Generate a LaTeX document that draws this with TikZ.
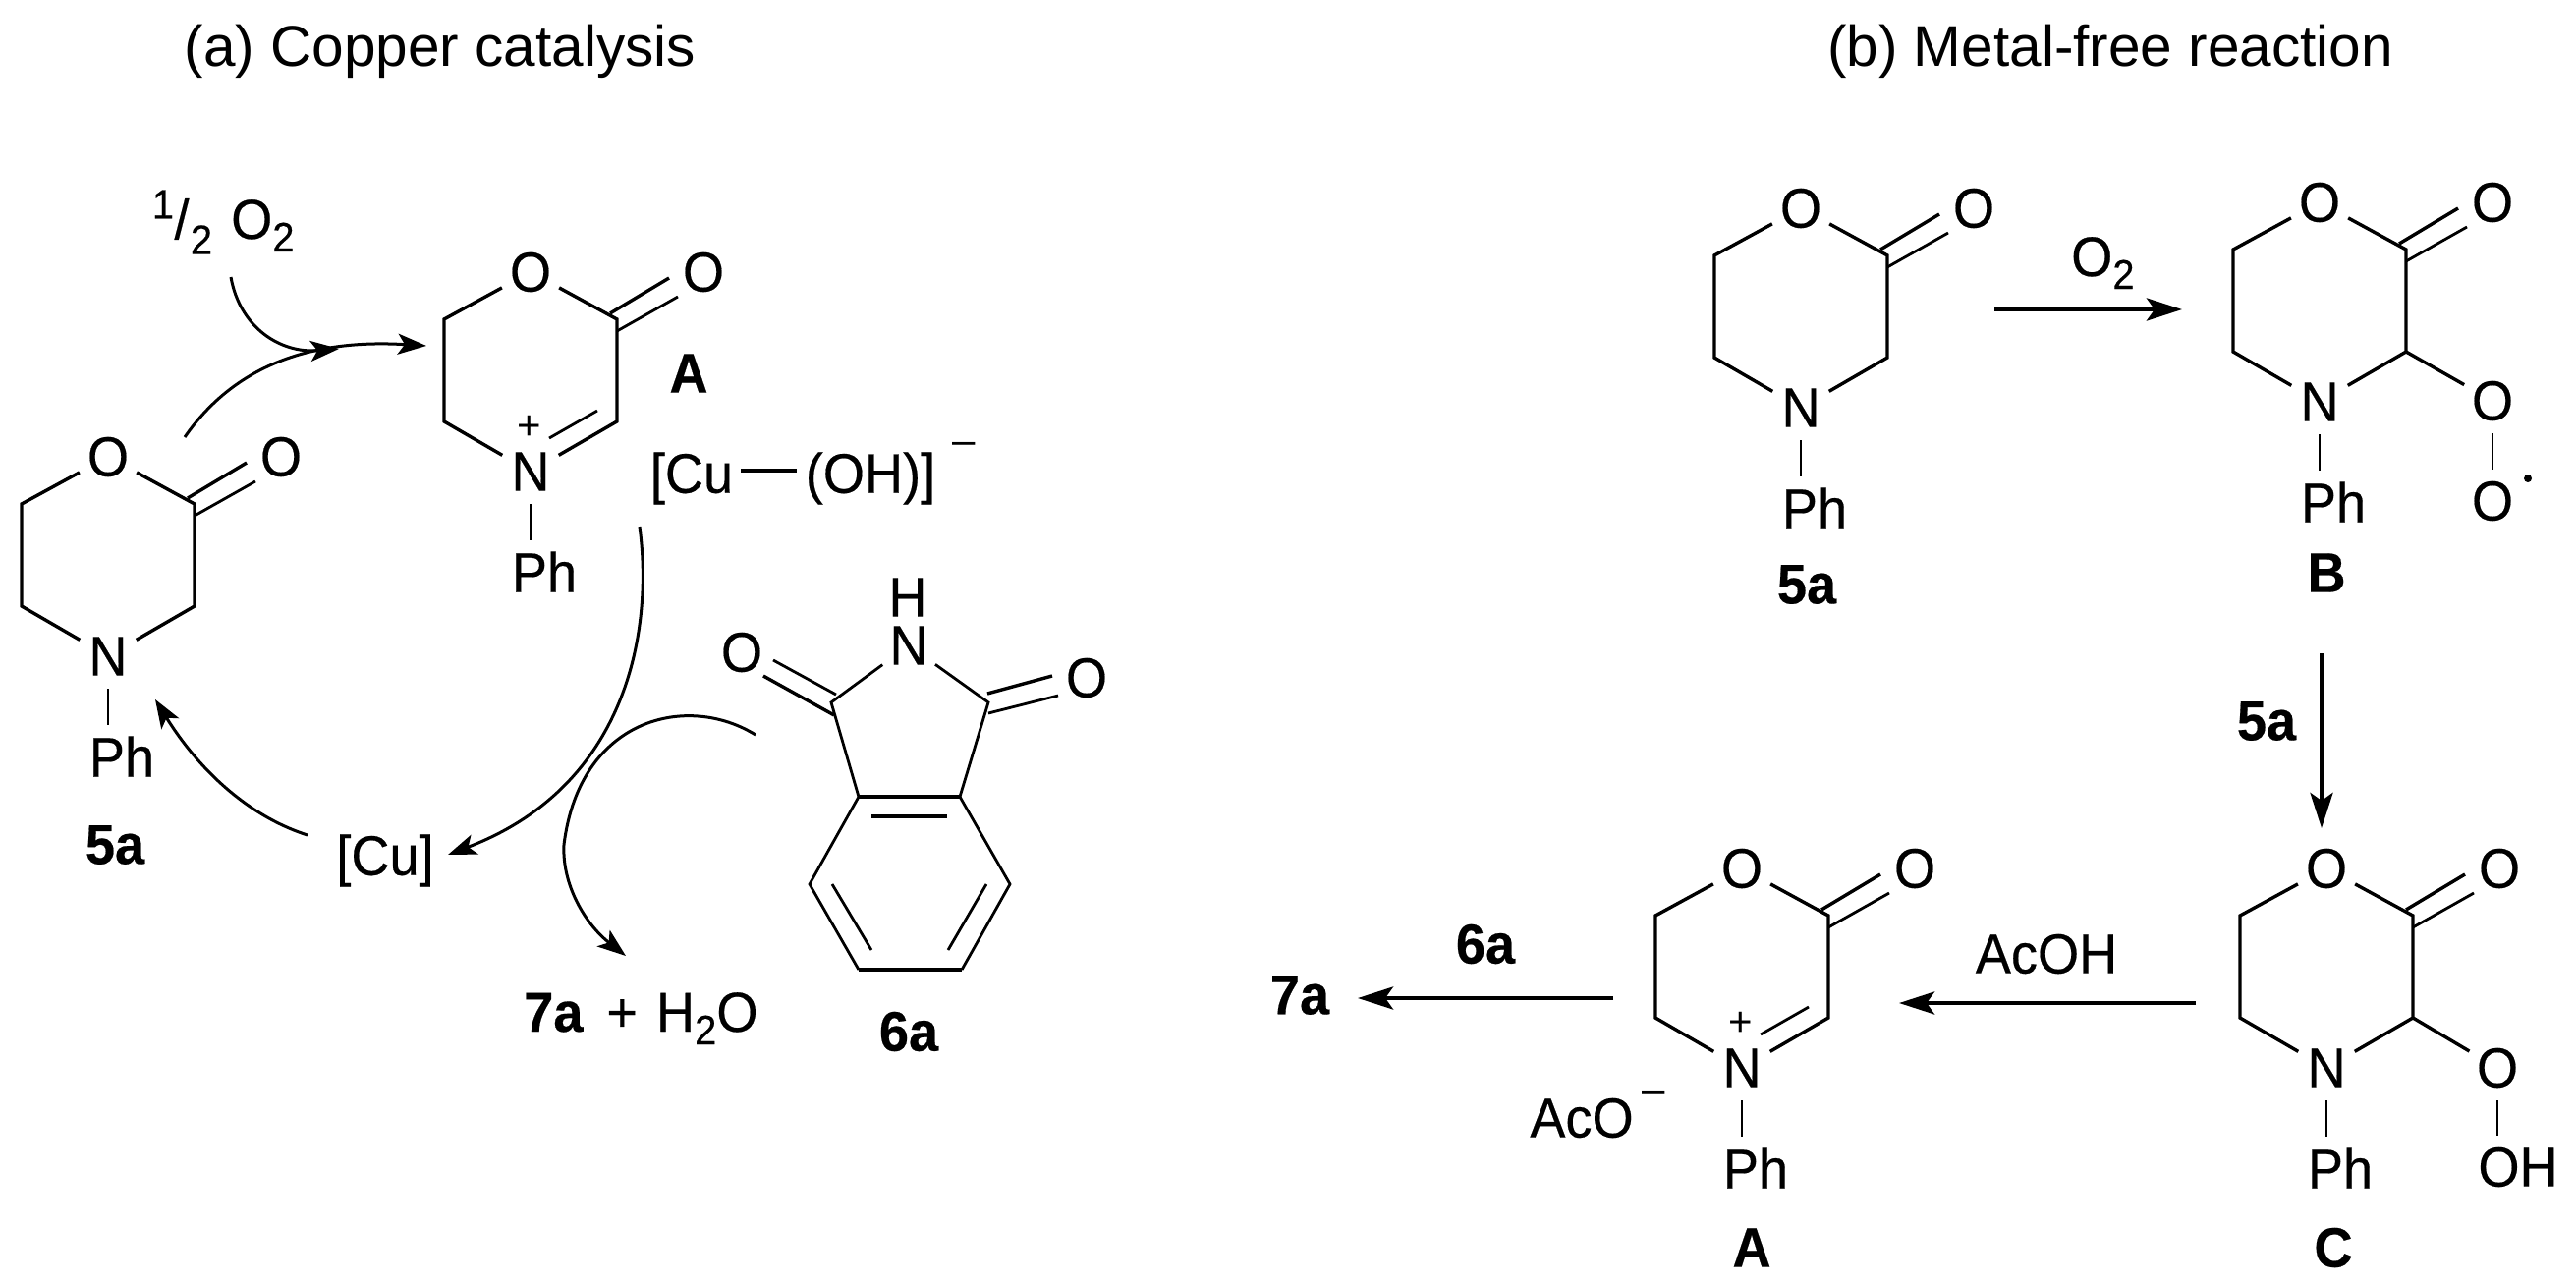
\documentclass[tikz,border=0pt]{standalone}
\usepackage{fontspec}
\setmainfont[FakeStretch=0.95,FakeBold=0.35]{Liberation Sans}
\newfontfamily\titlefont{Liberation Sans}
\usetikzlibrary{arrows.meta}
\newcommand{\bigf}{\fontsize{57}{62}\selectfont}
\newcommand{\smf}{\fontsize{42}{44}\selectfont}
\newcommand{\subtwo}{\raisebox{-13pt}{\smf 2}}
\tikzset{
  bond/.style={line width=3.4pt,line join=miter},
  thinbond/.style={line width=2.8pt},
  atom/.style={circle,inner sep=0pt,minimum size=66pt,font=\bigf},
  grp/.style={inner sep=0pt,minimum height=64pt,font=\bigf},
  lbl/.style={inner sep=0pt,font=\bigf},
  blbl/.style={inner sep=0pt,font=\bigf\bfseries},
  small/.style={inner sep=0pt,font=\smf},
  charge/.style={inner sep=0pt,font=\titlefont\fontsize{42}{44}\selectfont},
  straightarrow/.style={line width=4.6pt,-{Stealth[length=36pt,width=23pt,inset=8pt]}},
  curvearrow/.style={line width=3pt,-{Stealth[length=29pt,width=21pt,inset=7pt]}},
  ttl/.style={inner sep=0pt,font=\titlefont\fontsize{58.5}{62}\selectfont}
}
% prefix, x, y of the ring oxygen
\newcommand{\ringcore}[3]{%
  \begin{scope}[shift={(#2,#3)}]
    \node[atom] (#1o) at (0,0) {O};
    \node[atom] (#1n) at (0,203) {N};
    \node[atom] (#1oc) at (176,0) {O};
    \node[grp] (#1ph) at (14,305) {Ph};
    \coordinate (#1tl) at (-88,48);
    \coordinate (#1tr) at (88,48);
    \coordinate (#1bl) at (-88,152);
    \coordinate (#1br) at (88,152);
    \draw[bond] (#1o) -- (#1tl) -- (#1bl) -- (#1n);
    \draw[bond] (#1n) -- (#1br) -- (#1tr) -- (#1o);
    \draw[bond] ([shift={(-7,-6)}]#1tr) -- ([shift={(-35,6)}]#1oc.center);
    \draw[thinbond] ([shift={(0,12)}]#1tr) -- ([shift={(-26,25)}]#1oc.center);
    \draw[thinbond] (#1n) -- (#1n |- #1ph.north);
  \end{scope}}
\newcommand{\iminium}[3]{%
  \begin{scope}[shift={(#2,#3)}]
    \coordinate (#1ia) at (19,169);
    \coordinate (#1ib) at (68,141);
    \draw[thinbond] (#1ia) -- (#1ib);
    \node[charge] (#1plus) at (-1,158) {+};
  \end{scope}}
\begin{document}
\begin{tikzpicture}[x=1pt,y=-1pt]
\useasboundingbox (0,0) rectangle (2622,1308);
% titles
\node[ttl] (ta) at (448,52) {(a) Copper catalysis};
\node[ttl] (tb) at (2148,52) {(b) Metal-free reaction};

% ---- panel (a)
\ringcore{la}{110}{465}
\node[blbl] (la5) at (117,860) {5a};
\ringcore{ua}{540}{277}
\iminium{ua}{540}{277}
\node[blbl] (uaA) at (701,380) {A};

% 1/2 O2
\node[small] (half1) at (166,208) {1};
\node[lbl] (halfs) at (185,223) {/};
\node[small] (half2) at (205,244) {2};
\node[lbl,anchor=base west] (halfo) at (235,243) {O\subtwo};

\coordinate (o2s) at (235,282);
\coordinate (o2e) at (345,355);
\draw[curvearrow] (o2s) .. controls (244,333) and (285,360) .. (o2e);
\coordinate (cs1) at (188,445);
\coordinate (ce1) at (434,352);
\draw[curvearrow] (cs1) .. controls (240,370) and (320,345) .. (ce1);

% [Cu-(OH)]-
\node[lbl] (cua) at (704,487) {[Cu};
\node[lbl] (cub) at (886,487) {(OH)]};
\node[charge] (cum) at (981,456) {–};
\draw[line width=3.2pt] ([shift={(8,-8)}]cua.east) -- ([shift={(-9,-8)}]cub.west);

% [Cu]
\node[lbl] (cu) at (392,876) {[Cu]};
\coordinate (ac1) at (651,536);
\coordinate (ac2) at (456,870);
\draw[curvearrow] (ac1) .. controls (665,640) and (640,800) .. (ac2);
\coordinate (cu5s) at (313,850);
\coordinate (cu5e) at (158,712);
\draw[curvearrow] (cu5s) .. controls (250,830) and (200,780) .. (cu5e);

% 6a -> 7a
\coordinate (ph1) at (769,748);
\coordinate (ph2) at (574,860);
\coordinate (ph3) at (637,973);
\draw[curvearrow] (ph1) .. controls (700,705) and (590,730) .. (ph2) .. controls (572,900) and (595,940) .. (ph3);
\node[lbl,anchor=base west] (p7a) at (533,1050) {{\bfseries 7a}\hspace{24pt}+\hspace{19pt}H\subtwo O};

% 6a molecule
\node[atom] (imn) at (925,657) {N};
\node[lbl] (imh) at (924,608) {H};
\node[atom] (imol) at (755,664) {O};
\node[atom] (imor) at (1106,690) {O};
\coordinate (imcl) at (846,715);
\coordinate (imcr) at (1006,715);
\coordinate (imfl) at (874,811);
\coordinate (imfr) at (977,811);
\coordinate (imbl) at (824,900);
\coordinate (imbr) at (1028,900);
\coordinate (imdl) at (874,987);
\coordinate (imdr) at (979,987);
\draw[thinbond] (imn) -- (imcl) -- (imfl);
\draw[thinbond] (imn) -- (imcr) -- (imfr);
\draw[bond] (imfl) -- (imfr);
\draw[thinbond] (imfl) -- (imbl) -- (imdl);
\draw[bond] (imdl) -- (imdr);
\draw[thinbond] (imdr) -- (imbr) -- (imfr);
\draw[bond] ([shift={(13,20)}]imfl) -- ([shift={(-13,20)}]imfr);
\draw[thinbond] ([shift={(23,0)}]imbl) -- ([shift={(13,-20)}]imdl);
\draw[thinbond] ([shift={(-24,0)}]imbr) -- ([shift={(-14,-20)}]imdr);
\draw[thinbond] ([shift={(5,-8)}]imcl) -- ([shift={(32,8)}]imol.center);
\draw[bond] ([shift={(3,13)}]imcl) -- ([shift={(22,24)}]imol.center);
\draw[bond] ([shift={(-1,-9)}]imcr) -- ([shift={(-35,-2)}]imor.center);
\draw[thinbond] ([shift={(0,11)}]imcr) -- ([shift={(-29,18)}]imor.center);
\node[blbl] (im6a) at (925,1050) {6a};

% ---- panel (b)
\ringcore{ra}{1833}{212}
\node[blbl] (ra5) at (1839,595) {5a};

\coordinate (o2a) at (2030,315);
\coordinate (o2b) at (2221,315);
\draw[straightarrow] (o2a) -- (o2b);
\node[lbl,anchor=base west] (o2lbl) at (2108,281) {O\subtwo};

\ringcore{rb}{2361}{206}
\node[atom] (rbo1) at (2537,408) {O};
\node[grp] (rbo2) at (2537,510) {O};
\node[circle,fill=black,inner sep=0pt,minimum size=8pt] (rbdot) at (2573,487) {};
\draw[bond] (rbbr) -- (rbo1);
\draw[thinbond] (rbo1) -- (rbo1 |- rbo2.north);
\node[blbl] (rbl) at (2368,583) {B};

\coordinate (v1) at (2363,665);
\coordinate (v2) at (2363,843);
\draw[straightarrow] (v1) -- (v2);
\node[blbl] (v5a) at (2307,734) {5a};

\ringcore{rc}{2368}{884}
\node[atom] (rco1) at (2542,1087) {O};
\node[grp] (rcoh) at (2563,1188) {OH};
\draw[bond] (rcbr) -- (rco1);
\draw[thinbond] (rco1) -- (rco1 |- rcoh.north);
\node[blbl] (rcl) at (2375,1270) {C};

\coordinate (h1) at (2235,1021);
\coordinate (h2) at (1933,1021);
\draw[straightarrow] (h1) -- (h2);
\node[lbl] (acoh) at (2083,971) {AcOH};

\ringcore{rd}{1773}{884}
\iminium{rd}{1773}{884}
\node[lbl] (aco) at (1610,1138) {AcO};
\node[charge] (acom) at (1683,1117) {–};
\node[blbl] (rdl) at (1783,1270) {A};

\coordinate (g1) at (1642,1016);
\coordinate (g2) at (1382,1016);
\draw[straightarrow] (g1) -- (g2);
\node[blbl] (g6a) at (1512,961) {6a};
\node[blbl] (g7a) at (1323,1013) {7a};
\end{tikzpicture}
\end{document}
